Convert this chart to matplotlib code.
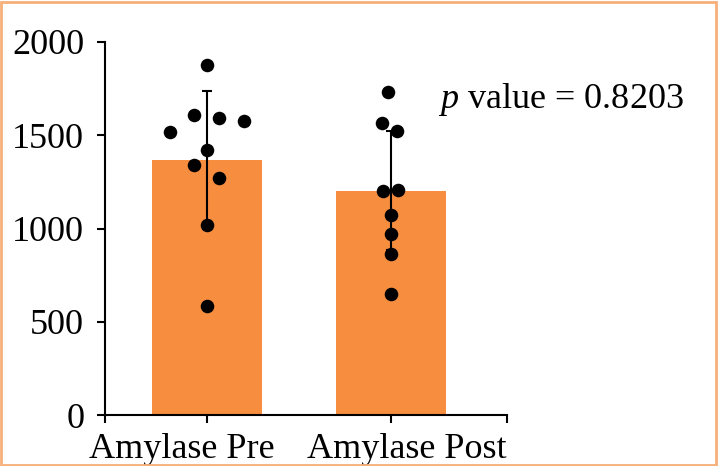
import matplotlib
matplotlib.use("Agg")
import matplotlib.pyplot as plt
from matplotlib.patches import Rectangle
import matplotlib.transforms as mtransforms
import numpy as np

categories = ["Amylase Pre", "Amylase Post"]
bar_means = [1369, 1203]
bar_sd = [369, 320]
pre_points = [1877, 1606, 1592, 1574, 1515, 1419, 1341, 1271, 1020, 584]
pre_offsets = [0.0, -0.07, 0.065, 0.2, -0.2, 0.0, -0.07, 0.065, 0.0, 0.0]
post_points = [1731, 1566, 1524, 1201, 1205, 1072, 969, 862, 649]
post_offsets = [-0.015, -0.05, 0.03, -0.045, 0.04, 0.0, 0.0, 0.0, 0.0]
yticks = [0, 500, 1000, 1500, 2000]
annotation = "value = 0.8203"

plt.rcParams['font.family'] = ['Liberation Serif', 'DejaVu Serif']
plt.rcParams['mathtext.fontset'] = 'custom'
plt.rcParams['mathtext.it'] = 'Liberation Serif:italic'
plt.rcParams['mathtext.rm'] = 'Liberation Serif'

fig = plt.figure(figsize=(7.2, 4.66), dpi=100)
ax = fig.add_axes([0.1458, 0.1088, 0.5583, 0.8017])

x = np.arange(len(categories))
ax.bar(x, bar_means, width=0.6, color='#F68D3F', zorder=1)
ax.errorbar(x, bar_means, yerr=bar_sd, fmt='none', ecolor='black',
            elinewidth=1.5, capsize=3.5, capthick=1.5, zorder=2)

ax.scatter(x[0] + np.array(pre_offsets), pre_points, s=95, color='black', zorder=3, linewidths=0)
ax.scatter(x[1] + np.array(post_offsets), post_points, s=95, color='black', zorder=3, linewidths=0)

ax.set_xlim(-0.555, 1.63)
ax.set_ylim(0, 2000)
ax.set_yticks(yticks)
ax.set_xticks(x)
ax.set_xticklabels(categories)
ax.set_xticks([-0.555, 1.63], minor=True)

for s in ['top', 'right']:
    ax.spines[s].set_visible(False)
for s in ['left', 'bottom']:
    ax.spines[s].set_linewidth(1.5)

ax.tick_params(axis='both', which='both', labelsize=26, width=1.5, length=6)
ax.tick_params(axis='y', pad=9)
ax.tick_params(axis='x', which='major', pad=7)

shifts = [-25, 16]
for lab, dx in zip(ax.get_xticklabels(), shifts):
    lab.set_transform(lab.get_transform() + mtransforms.ScaledTranslation(dx / 100, 0, fig.dpi_scale_trans))

ax.text(1.255, 1645, r"$\it{p}$ " + annotation, fontsize=26, va='baseline', ha='left')

fig.patches.append(Rectangle((0.002, 0.003), 0.993, 0.993, transform=fig.transFigure,
                             fill=False, edgecolor='#F7B07A', linewidth=2))

fig.savefig("out.png", dpi=100)
